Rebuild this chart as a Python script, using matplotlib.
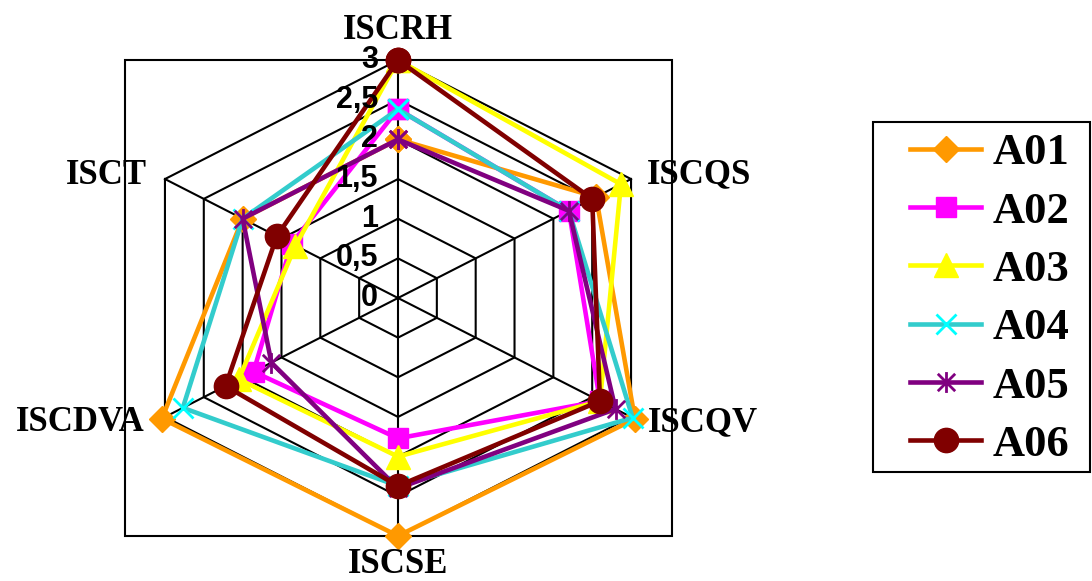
import numpy as np
import matplotlib
matplotlib.use("Agg")
import matplotlib.pyplot as plt
from matplotlib.path import Path
from matplotlib.patches import Rectangle

# ---- data -------------------------------------------------------------
axis_names = ["ISCRH", "ISCQS", "ISCQV", "ISCSE", "ISCDVA", "ISCT"]
series_names = ["A01", "A02", "A03", "A04", "A05", "A06"]
a01 = [2.00, 2.55, 3.05, 3.00, 3.04, 2.00]
a02 = [2.38, 2.20, 2.60, 1.77, 1.86, 1.37]
a03 = [3.00, 2.87, 2.60, 2.00, 2.05, 1.32]
a04 = [2.38, 2.20, 3.02, 2.37, 2.77, 2.00]
a05 = [2.00, 2.20, 2.80, 2.40, 1.63, 2.00]
a06 = [3.00, 2.50, 2.60, 2.37, 2.22, 1.56]
ring_values = [0, 0.5, 1, 1.5, 2, 2.5, 3]
ring_labels = ["0", "0,5", "1", "1,5", "2", "2,5", "3"]

# ---- styles -----------------------------------------------------------
star = Path([(-1, -1), (1, 1), (-1, 1), (1, -1), (0, -1.2), (0, 1.2)],
            [Path.MOVETO, Path.LINETO, Path.MOVETO, Path.LINETO,
             Path.MOVETO, Path.LINETO])
styles = [
    dict(color="#FF9900", marker="D", ms=13, mfc="#FF9900", mec="#FF9900", mew=1),
    dict(color="#FF00FF", marker="s", ms=15, mfc="#FF00FF", mec="#FF00FF", mew=1),
    dict(color="#FFFF00", marker="^", ms=17, mfc="#FFFF00", mec="#FFFF00", mew=1),
    dict(color="#33CCCC", marker="x", ms=14, mfc="none", mec="#00FFFF", mew=2),
    dict(color="#800080", marker=star, ms=15, mfc="none", mec="#800080", mew=2),
    dict(color="#800000", marker="o", ms=17.5, mfc="#800000", mec="#800000", mew=1),
]

W, H = 1092, 581
CX, CY = 398, 298          # pixel position of the chart centre
KX, KY = 89.7, 79.3        # pixels per unit, horizontal / vertical
PT = 72 / 100              # points per pixel

fig = plt.figure(figsize=(W / 100, H / 100), dpi=100)
ax = fig.add_axes([0, 0, 1, 1])
ax.set_xlim(-CX / KX, (W - CX) / KX)
ax.set_ylim(-(H - CY) / KY, CY / KY)
ax.axis("off")

n = len(axis_names)
theta = 2 * np.pi * np.arange(n) / n
sx, sy = np.sin(theta), np.cos(theta)
vmax = ring_values[-1]

# plot-area frame
x_left, x_right = (125 - CX) / KX, (672 - CX) / KX
ax.add_patch(Rectangle((x_left, -vmax), x_right - x_left, 2 * vmax,
                       fill=False, ec="black", lw=1.5, zorder=1))

# hexagonal grid and spokes
for r in ring_values[1:]:
    ax.plot(np.append(r * sx, r * sx[0]), np.append(r * sy, r * sy[0]),
            color="black", lw=1.5, zorder=2, solid_joinstyle="miter")
for i in range(n):
    ax.plot([0, vmax * sx[i]], [0, vmax * sy[i]], color="black", lw=1.5, zorder=2)

# series
for name, vals, st in zip(series_names, [a01, a02, a03, a04, a05, a06], styles):
    v = np.asarray(vals)
    ax.plot(np.append(v * sx, v[0] * sx[0]), np.append(v * sy, v[0] * sy[0]),
            color=st["color"], lw=3.3, marker=st["marker"], ms=st["ms"],
            mfc=st["mfc"], mec=st["mec"], mew=st["mew"], label=name,
            zorder=3, clip_on=False)

# value labels along the top spoke
for r, lab in zip(ring_values, ring_labels):
    ax.annotate(lab, xy=(0, r), xytext=(-20 * PT, 0), textcoords="offset points",
                ha="right", va="center", fontsize=22, fontweight="bold",
                family="Liberation Sans", zorder=4)

# category labels
offsets = [(0, 30), (16, 4), (17, -6), (0, -29), (-20, -6), (-18, 4)]
aligns = ["center", "left", "left", "center", "right", "right"]
for i, name in enumerate(axis_names):
    ax.annotate(name, xy=(vmax * sx[i], vmax * sy[i]),
                xytext=(offsets[i][0] * PT, offsets[i][1] * PT),
                textcoords="offset points", ha=aligns[i], va="center",
                fontsize=25, fontweight="bold", family="Liberation Serif",
                zorder=4)

# legend with its own frame
fig.add_artist(Rectangle((873 / W, 1 - 472 / H), 217 / W, 350 / H,
                         transform=fig.transFigure, fill=False,
                         ec="black", lw=1.5))
handles, labels = ax.get_legend_handles_labels()
fig.legend(handles, labels, loc="center", bbox_to_anchor=(990 / W, 1 - 299 / H),
           frameon=False, handlelength=1.58, handletextpad=0.27,
           labelspacing=0.41, borderpad=0,
           prop=dict(family="Liberation Serif", weight="bold", size=32))

fig.savefig("out.png", dpi=100)
